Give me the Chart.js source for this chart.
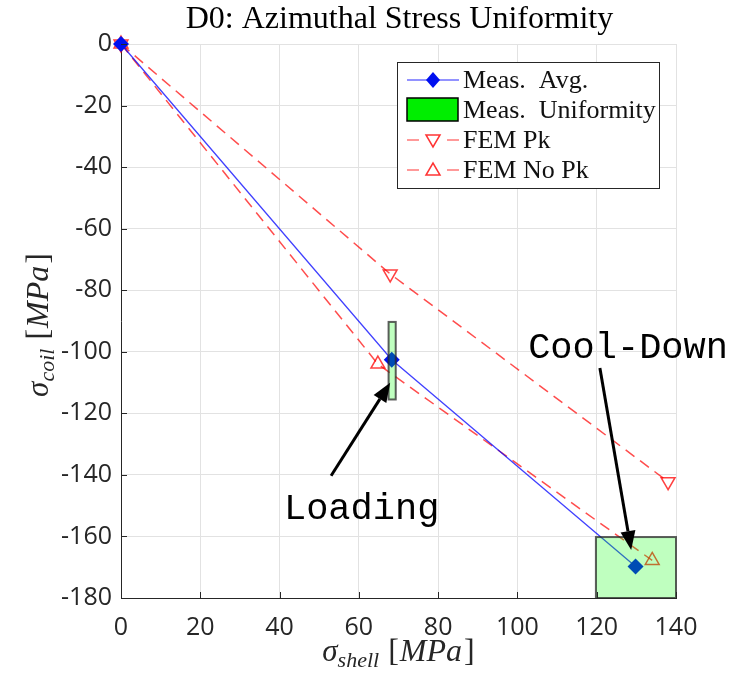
<!DOCTYPE html>
<html>
<head>
<meta charset="utf-8">
<script src="https://cdn.jsdelivr.net/npm/chart.js@4.4.1/dist/chart.umd.min.js"></script>
<style>
  body { margin: 0; background: #fff; }
  #wrap { width: 739px; height: 675px; }
</style>
</head>
<body>
<div id="wrap"><canvas id="myChart"></canvas></div>
<script>
// axis ticks
const xTicks = [0, 20, 40, 60, 80, 100, 120, 140];
const yTicks = [0, -20, -40, -60, -80, -100, -120, -140, -160, -180];

// measured average (shell stress vs coil stress, MPa)
const measShell = [0, 68.3, 129.8];
const measCoil = [0, -102.6, -169.8];

// FEM with peak
const femPkShell = [0, 67.9, 138.0];
const femPkCoil = [0, -74.7, -142.2];

// FEM without peak
const femNoPkShell = [0, 64.8, 134.0];
const femNoPkCoil = [0, -104.0, -167.8];

// measured uniformity boxes
const boxShellMin = [67.5, 119.8];
const boxShellMax = [69.3, 140];
const boxCoilMin = [-115.5, -180];
const boxCoilMax = [-90.3, -160.2];

// annotations (data coordinates)
const noteText = ['Loading', 'Cool-Down'];
const noteX = [41.1, 102.7];
const noteY = [-154.3, -102.0];
const arrowFromX = [53.0, 120.8];
const arrowFromY = [-140.3, -105.3];
const arrowToX = [67.9, 128.7];
const arrowToY = [-110.1, -164.4];

function pts(xs, ys) {
  return xs.map((x, i) => ({ x: x, y: ys[i] }));
}

const SERIF = '"Liberation Serif", serif';
const TICK_COLOR = '#262626';

function drawParts(ctx, parts, x, y, align) {
  let total = 0;
  parts.forEach(p => { ctx.font = p.f; total += ctx.measureText(p.t).width + (p.gap || 0); });
  let cx = align === 'center' ? x - total / 2 : x;
  parts.forEach(p => {
    ctx.font = p.f;
    ctx.fillText(p.t, cx, y + (p.dy || 0));
    cx += ctx.measureText(p.t).width + (p.gap || 0);
  });
}

function arrow(ctx, x0, y0, x1, y1) {
  const ang = Math.atan2(y1 - y0, x1 - x0);
  const len = 19, half = 7.5;
  const bx = x1 - len * Math.cos(ang), by = y1 - len * Math.sin(ang);
  ctx.strokeStyle = '#000';
  ctx.lineWidth = 3;
  ctx.beginPath();
  ctx.moveTo(x0, y0);
  ctx.lineTo(bx, by);
  ctx.stroke();
  ctx.fillStyle = '#000';
  ctx.beginPath();
  ctx.moveTo(x1, y1);
  ctx.lineTo(bx + half * Math.sin(ang), by - half * Math.cos(ang));
  ctx.lineTo(bx - half * Math.sin(ang), by + half * Math.cos(ang));
  ctx.closePath();
  ctx.fill();
}

const extras = {
  id: 'extras',
  afterDatasetsDraw(chart) {
    const ctx = chart.ctx, xs = chart.scales.x, ys = chart.scales.y;
    ctx.save();
    for (let i = 0; i < boxShellMin.length; i++) {
      const l = xs.getPixelForValue(boxShellMin[i]);
      const r = xs.getPixelForValue(boxShellMax[i]);
      const t = ys.getPixelForValue(boxCoilMax[i]);
      const b = ys.getPixelForValue(boxCoilMin[i]);
      ctx.fillStyle = 'rgba(0,255,0,0.25)';
      ctx.fillRect(l, t, r - l, b - t);
      ctx.strokeStyle = 'rgba(40,40,40,0.75)';
      ctx.lineWidth = 2;
      ctx.strokeRect(l, t, r - l, b - t);
    }
    ctx.restore();
  },
  afterDraw(chart) {
    const ctx = chart.ctx, xs = chart.scales.x, ys = chart.scales.y;
    const a = chart.chartArea;
    ctx.save();

    // inward tick marks
    ctx.strokeStyle = TICK_COLOR;
    ctx.lineWidth = 1;
    ctx.beginPath();
    xTicks.forEach(v => {
      const px = Math.round(xs.getPixelForValue(v)) + 0.5;
      ctx.moveTo(px, a.bottom); ctx.lineTo(px, a.bottom - 6);
    });
    yTicks.forEach(v => {
      const py = Math.round(ys.getPixelForValue(v)) + 0.5;
      ctx.moveTo(a.left, py); ctx.lineTo(a.left + 6, py);
    });
    ctx.stroke();

    // annotations
    for (let i = 0; i < noteText.length; i++) {
      arrow(ctx, xs.getPixelForValue(arrowFromX[i]), ys.getPixelForValue(arrowFromY[i]),
        xs.getPixelForValue(arrowToX[i]), ys.getPixelForValue(arrowToY[i]));
      ctx.fillStyle = '#000';
      ctx.font = '37px "Liberation Mono", monospace';
      ctx.textAlign = 'left';
      ctx.textBaseline = 'alphabetic';
      ctx.fillText(noteText[i], xs.getPixelForValue(noteX[i]), ys.getPixelForValue(noteY[i]));
    }

    // title
    ctx.fillStyle = '#000';
    ctx.textAlign = 'center';
    ctx.font = '32px ' + SERIF;
    ctx.fillText('D0: Azimuthal Stress Uniformity', (a.left + a.right) / 2 + 1, 28);

    // axis titles
    ctx.textAlign = 'left';
    ctx.fillStyle = TICK_COLOR;
    const xParts = [
      { t: 'σ', f: 'italic 31px ' + SERIF },
      { t: 'shell', f: 'italic 22px ' + SERIF, dy: 6, gap: 9 },
      { t: '[', f: '32px ' + SERIF, gap: 1 },
      { t: 'MPa', f: 'italic 32px ' + SERIF, gap: 2 },
      { t: ']', f: '32px ' + SERIF }
    ];
    drawParts(ctx, xParts, (a.left + a.right) / 2, 661, 'center');
    const yParts = [
      { t: 'σ', f: 'italic 31px ' + SERIF },
      { t: 'coil', f: 'italic 22px ' + SERIF, dy: 6, gap: 9 },
      { t: '[', f: '32px ' + SERIF, gap: 1 },
      { t: 'MPa', f: 'italic 32px ' + SERIF, gap: 2 },
      { t: ']', f: '32px ' + SERIF }
    ];
    ctx.save();
    ctx.translate(48, (a.top + a.bottom) / 2 + 4);
    ctx.rotate(-Math.PI / 2);
    drawParts(ctx, yParts, 0, 0, 'center');
    ctx.restore();

    // legend
    const lx = a.right - 279, ly = a.top + 18, lw = 262, lh = 126;
    ctx.fillStyle = '#fff';
    ctx.fillRect(lx, ly, lw, lh);
    ctx.strokeStyle = '#262626';
    ctx.lineWidth = 1;
    ctx.strokeRect(lx + 0.5, ly + 0.5, lw, lh);
    const rows = [ly + 18, ly + 48, ly + 78, ly + 108];
    const sx0 = lx + 10, sx1 = lx + 62, smid = lx + 36;
    // Meas. Avg.
    ctx.strokeStyle = 'rgba(0,0,255,0.85)';
    ctx.lineWidth = 1.2;
    ctx.beginPath(); ctx.moveTo(sx0, rows[0]); ctx.lineTo(sx1, rows[0]); ctx.stroke();
    ctx.fillStyle = '#0010f0';
    ctx.beginPath();
    ctx.moveTo(smid, rows[0] - 8); ctx.lineTo(smid + 7, rows[0]);
    ctx.lineTo(smid, rows[0] + 8); ctx.lineTo(smid - 7, rows[0]);
    ctx.closePath(); ctx.fill();
    // Meas. Uniformity
    ctx.fillStyle = '#00ee00';
    ctx.fillRect(sx0, rows[1] - 12, 51, 23);
    ctx.strokeStyle = '#000';
    ctx.lineWidth = 1.5;
    ctx.strokeRect(sx0, rows[1] - 12, 51, 23);
    // FEM rows
    [2, 3].forEach((r, k) => {
      const cy = rows[r];
      ctx.strokeStyle = 'rgba(255,0,0,0.8)';
      ctx.lineWidth = 1.2;
      ctx.beginPath();
      ctx.moveTo(sx0, cy); ctx.lineTo(sx0 + 12, cy);
      ctx.moveTo(sx1 - 12, cy); ctx.lineTo(sx1, cy);
      ctx.stroke();
      ctx.lineWidth = 1.5;
      ctx.beginPath();
      if (k === 0) {
        ctx.moveTo(smid - 7, cy - 5); ctx.lineTo(smid + 7, cy - 5); ctx.lineTo(smid, cy + 7);
      } else {
        ctx.moveTo(smid - 7, cy + 5); ctx.lineTo(smid + 7, cy + 5); ctx.lineTo(smid, cy - 7);
      }
      ctx.closePath(); ctx.stroke();
    });
    ctx.fillStyle = '#111';
    ctx.font = '26px ' + SERIF;
    ctx.textAlign = 'left';
    const labels = ['Meas.  Avg.', 'Meas.  Uniformity', 'FEM Pk', 'FEM No Pk'];
    labels.forEach((t, i) => ctx.fillText(t, lx + 66, rows[i] + 8));

    ctx.restore();
  }
};

const ctx = document.getElementById('myChart');
new Chart(ctx, {
  type: 'scatter',
  data: {
    datasets: [
      {
        label: 'Meas. Avg.',
        data: pts(measShell, measCoil),
        showLine: true,
        borderColor: 'rgba(0,0,255,0.75)',
        borderWidth: 1.3,
        pointStyle: 'rectRot',
        pointRadius: 8,
        pointBackgroundColor: '#0010f0',
        pointBorderColor: '#0010f0',
        pointBorderWidth: 0,
        clip: false
      },
      {
        label: 'FEM Pk',
        data: pts(femPkShell, femPkCoil),
        showLine: true,
        borderColor: 'rgba(255,0,0,0.7)',
        borderWidth: 1.5,
        borderDash: [11, 7],
        pointStyle: 'triangle',
        rotation: 180,
        pointRadius: 8,
        pointBackgroundColor: 'rgba(0,0,0,0)',
        pointBorderColor: 'rgba(255,0,0,0.75)',
        pointBorderWidth: 1.5,
        clip: false
      },
      {
        label: 'FEM No Pk',
        data: pts(femNoPkShell, femNoPkCoil),
        showLine: true,
        borderColor: 'rgba(255,0,0,0.7)',
        borderWidth: 1.5,
        borderDash: [11, 7],
        pointStyle: 'triangle',
        pointRadius: 8,
        pointBackgroundColor: 'rgba(0,0,0,0)',
        pointBorderColor: 'rgba(255,0,0,0.75)',
        pointBorderWidth: 1.5,
        clip: false
      }
    ]
  },
  options: {
    responsive: true,
    maintainAspectRatio: false,
    animation: false,
    layout: { padding: { top: 44, right: 63, left: 0, bottom: 0 } },
    plugins: {
      legend: { display: false },
      tooltip: { enabled: false },
      title: { display: false }
    },
    scales: {
      x: {
        type: 'linear',
        min: 0,
        max: 140,
        afterBuildTicks: s => { s.ticks = xTicks.map(v => ({ value: v })); },
        afterFit: s => { s.height = 77; },
        grid: { color: '#e2e2e2', drawTicks: false },
        border: { color: TICK_COLOR, width: 1 },
        ticks: { padding: 15, color: TICK_COLOR, maxRotation: 0, font: { family: 'Open Sans', size: 25 } }
      },
      y: {
        type: 'linear',
        min: -180,
        max: 0,
        afterBuildTicks: s => { s.ticks = yTicks.map(v => ({ value: v })); },
        afterFit: s => { s.width = 121; },
        grid: { color: '#e2e2e2', drawTicks: false },
        border: { color: TICK_COLOR, width: 1 },
        ticks: { padding: 9, color: TICK_COLOR, font: { family: 'Open Sans', size: 25 } }
      }
    }
  },
  plugins: [extras]
});
</script>
</body>
</html>
